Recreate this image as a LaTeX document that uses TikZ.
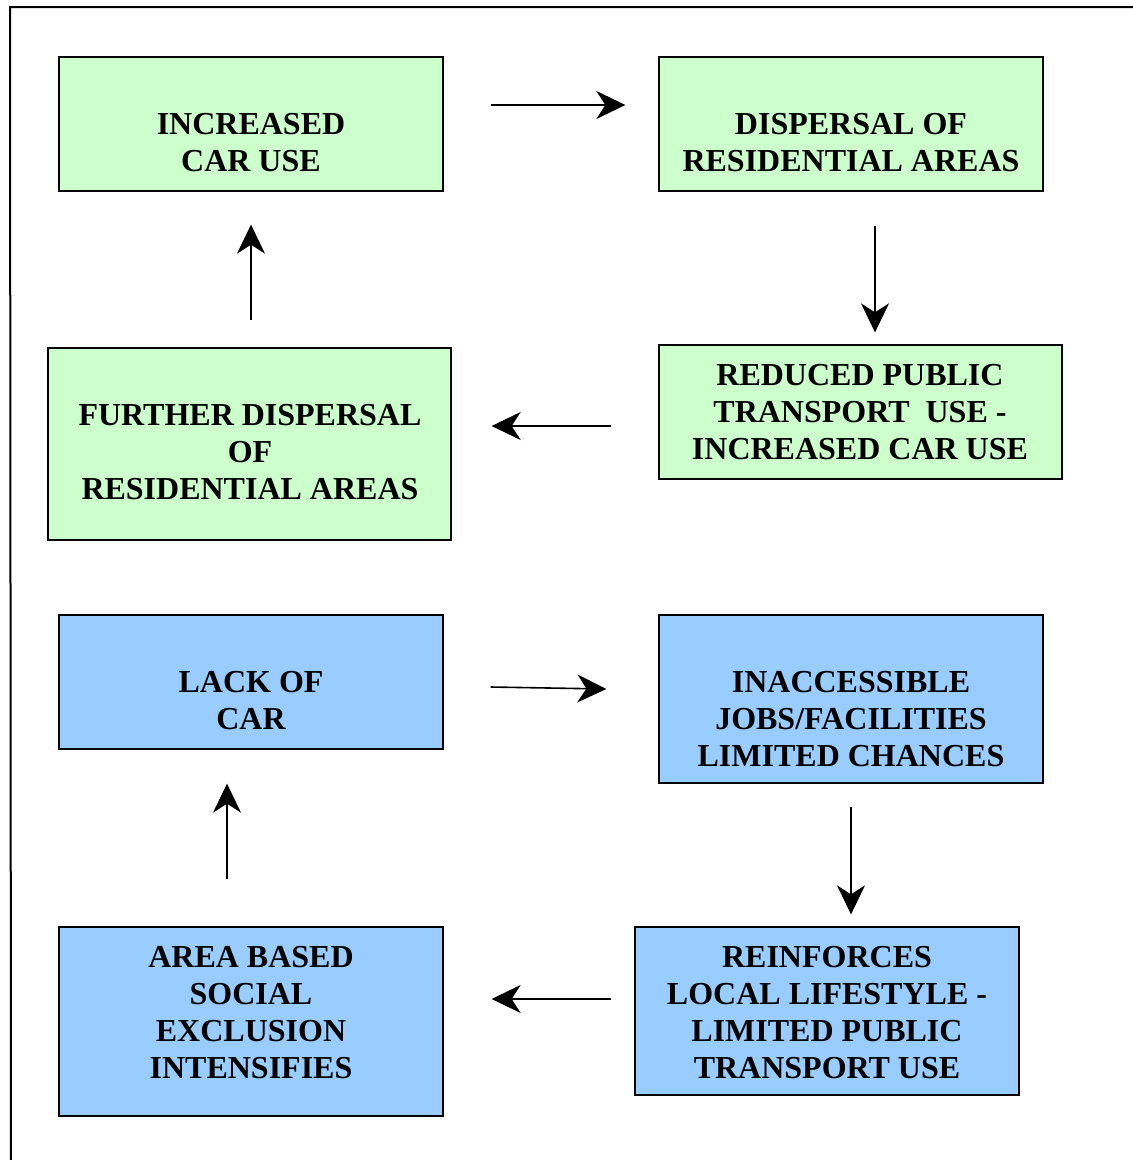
\documentclass[tikz,border=0pt]{standalone}
\usepackage{fontspec}
\setmainfont{Liberation Serif}
\usetikzlibrary{arrows.meta,calc}
\definecolor{boxgreen}{HTML}{CCFFCC}
\definecolor{boxblue}{HTML}{99CCFF}
\tikzset{
  gbox/.style={draw=black, line width=1.3pt, fill=boxgreen, rectangle, inner sep=0pt},
  bbox/.style={draw=black, line width=1.3pt, fill=boxblue, rectangle, inner sep=0pt},
  txt/.style={align=center, inner sep=0pt, font=\fontsize{32}{37}\selectfont\bfseries},
  arr/.style={line width=1.6pt, -{Stealth[length=29pt,width=28pt,inset=9pt]}},
  frame/.style={line width=2pt}
}
\begin{document}
\begin{tikzpicture}[x=1pt,y=-1pt]
\useasboundingbox (0,0) rectangle (1133,1160);
% outer frame (top and left)
\coordinate (fa) at (10,7);
\coordinate (fb) at (1133,7);
\coordinate (fc) at (11,1160);
\draw[frame] (fb) -- (fa) -- (fc);
% boxes
\node[gbox, minimum width=384pt, minimum height=134pt] (n1) at (251,124) {};
\node[gbox, minimum width=384pt, minimum height=134pt] (n2) at (851,124) {};
\node[gbox, minimum width=403pt, minimum height=134pt] (n3) at (860.5,412) {};
\node[gbox, minimum width=403pt, minimum height=192pt] (n4) at (249.5,444) {};
\node[bbox, minimum width=384pt, minimum height=134pt] (n5) at (251,682) {};
\node[bbox, minimum width=384pt, minimum height=168pt] (n6) at (851,699) {};
\node[bbox, minimum width=384pt, minimum height=168pt] (n7) at (827,1011) {};
\node[bbox, minimum width=384pt, minimum height=189pt] (n8) at (251,1021.5) {};
% texts
\node[txt] (t1) at (251,142.5) {INCREASED\\CAR USE};
\node[txt] (t2) at (851,142.5) {DISPERSAL OF\\RESIDENTIAL AREAS};
\node[txt] (t3) at (860,412) {REDUCED PUBLIC\\TRANSPORT\ \ USE -\\INCREASED CAR USE};
\node[txt] (t4) at (250,452) {FURTHER DISPERSAL\\OF\\RESIDENTIAL AREAS};
\node[txt] (t5) at (251,701) {LACK OF\\CAR};
\node[txt] (t6) at (851,719) {INACCESSIBLE\\JOBS/FACILITIES\\LIMITED CHANCES};
\node[txt] (t7) at (827,1012.5) {REINFORCES\\LOCAL LIFESTYLE -\\LIMITED PUBLIC\\TRANSPORT USE};
\node[txt] (t8) at (251,1013) {AREA BASED\\SOCIAL\\EXCLUSION\\INTENSIFIES};
% arrows
\draw[arr] ($(n1.east)+(47,-19)$) -- ($(n2.west)+(-33,-19)$);
\draw[arr] ($(n2.south)+(24,34)$) -- ($(n3.north)+(14.5,-12)$);
\draw[arr] ($(n3.west)+(-47,14)$) -- ($(n4.east)+(40,-18)$);
\draw[arr] ($(n4.north)+(1.5,-27)$) -- ($(n1.south)+(0,33)$);
\draw[arr] ($(n5.east)+(47,5)$) -- ($(n6.west)+(-52,-10)$);
\draw[arr] ($(n6.south)+(0,23)$) -- ($(n7.north)+(24,-12)$);
\draw[arr] ($(n7.west)+(-23,-12)$) -- ($(n8.east)+(48,-22.5)$);
\draw[arr] ($(n8.north)+(-24,-47)$) -- ($(n5.south)+(-24,34)$);
\end{tikzpicture}
\end{document}
